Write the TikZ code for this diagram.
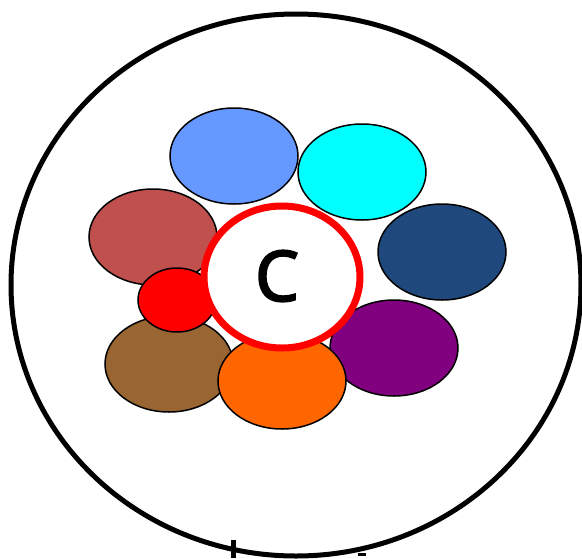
\documentclass[tikz,border=0pt]{standalone}
\usepackage{fontspec}
\setmainfont{Noto Sans}
\newfontfamily\cfont{Noto Sans}[FakeBold=2.5]
\definecolor{cblue}{HTML}{6699FF}
\definecolor{ccyan}{HTML}{00FFFF}
\definecolor{crose}{HTML}{C0504D}
\definecolor{cnavy}{HTML}{1F497D}
\definecolor{cred}{HTML}{FF0000}
\definecolor{cbrown}{HTML}{996633}
\definecolor{corange}{HTML}{FF6600}
\definecolor{cpurple}{HTML}{800080}
\tikzset{petal/.style={draw=black,line width=1.5pt}}
\begin{document}
\begin{tikzpicture}[x=1pt,y=-1pt]
\useasboundingbox (0,0) rectangle (582,558);
\draw[line width=5pt] (296,285) ellipse [x radius=285, y radius=271];
\filldraw[petal,fill=cblue] (234,156) ellipse [x radius=64, y radius=48];
\filldraw[petal,fill=ccyan] (362,172) ellipse [x radius=64, y radius=48];
\filldraw[petal,fill=crose] (153,237) ellipse [x radius=64, y radius=48];
\filldraw[petal,fill=cnavy] (442,252) ellipse [x radius=64, y radius=48];
\filldraw[petal,fill=cpurple] (394,348) ellipse [x radius=64, y radius=48];
\filldraw[petal,fill=cbrown] (169,364) ellipse [x radius=64, y radius=48];
\filldraw[petal,fill=corange] (282,381) ellipse [x radius=64, y radius=48];
\filldraw[petal,fill=cred] (177,300) ellipse [x radius=39, y radius=32];
\filldraw[draw=cred,fill=white,line width=7pt] (282,277) ellipse [x radius=78, y radius=71];
\node (c) at (277,276) {\cfont\fontsize{70}{70}\selectfont C};
\fill (231,540) rectangle (236,558);
\fill (358,553) rectangle (366,556);
\end{tikzpicture}
\end{document}
